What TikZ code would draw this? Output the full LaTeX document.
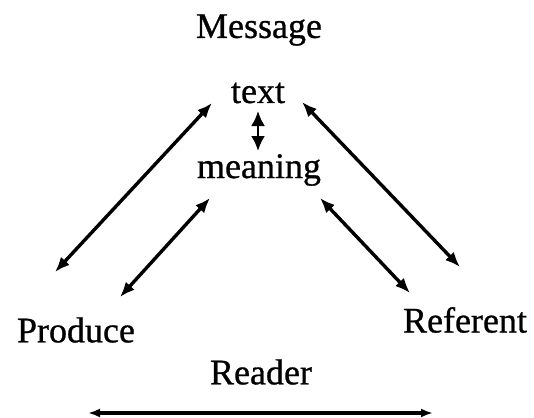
\documentclass[tikz,border=0pt]{standalone}
\usepackage{fontspec}
\setmainfont{Liberation Serif}
\newfontfamily\scanfont[FakeBold=0.8]{Liberation Serif}
\usetikzlibrary{arrows.meta}

\begin{document}
\begin{tikzpicture}[x=1pt, y=-1pt,
    label text/.style={inner sep=0pt, font=\scanfont\fontsize{36}{40}\selectfont},
    link/.style={{Latex[length=15pt,width=12pt]}-{Latex[length=15pt,width=12pt]}, line width=3.4pt}]
    \useasboundingbox (0,0) rectangle (534,417);

    % Top: message with text and meaning
    \node[label text] (message) at (259,30) {Message};
    \node[label text] (text) at (258,93) {text};
    \node[label text] (meaning) at (259,170) {meaning};

    % Corners
    \node[label text] (produce) at (76,330) {Produce};
    \node[label text] (referent) at (465,320) {Referent};
    \node[label text] (reader) at (261,372) {Reader};

    % Arrow ends
    \coordinate (tm) at (258,111);
    \coordinate (mt) at (258,151);
    \coordinate (tl) at (212,103);
    \coordinate (pl) at (55,272);
    \coordinate (ml) at (210,198);
    \coordinate (ps) at (120,297);
    \coordinate (tr) at (302,102);
    \coordinate (rl) at (460,267);
    \coordinate (mr) at (320,198);
    \coordinate (rs) at (410,293);
    \coordinate (ra) at (88,413);
    \coordinate (rb) at (433,413);

    % text <-> meaning
    \draw[{Latex[length=15pt,width=14pt]}-{Latex[length=15pt,width=14pt]}, line width=2.5pt] (tm) -- (mt);

    % Links to the corners
    \draw[link] (tl) -- (pl);
    \draw[link] (ml) -- (ps);
    \draw[link] (tr) -- (rl);
    \draw[link] (mr) -- (rs);

    % Reader line
    \draw[{Latex[length=12pt,width=9pt]}-{Latex[length=12pt,width=9pt]}, line width=3.4pt] (ra) -- (rb);
\end{tikzpicture}
\end{document}
